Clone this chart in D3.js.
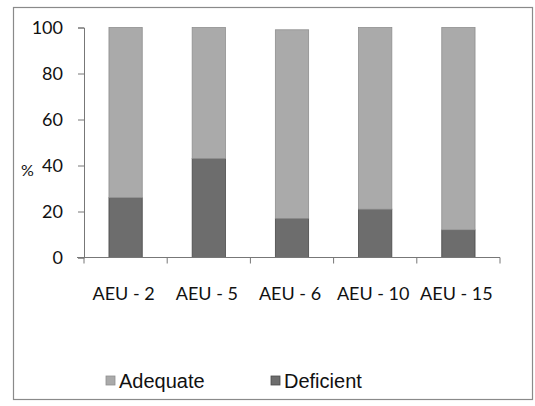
<!DOCTYPE html>
<html>
<head>
<meta charset="utf-8">
<script src="https://cdn.jsdelivr.net/npm/d3@7"></script>
<style>
  html, body { margin: 0; padding: 0; background: #fff; }
  svg { display: block; }
</style>
</head>
<body>
<svg id="chart" width="535" height="406"></svg>
<script>
// Share of each AEU rated adequate / deficient (%)
const categories = ["AEU - 2", "AEU - 5", "AEU - 6", "AEU - 10", "AEU - 15"];
const deficient = [26, 43, 17, 21, 12];
const adequate  = [74, 57, 82, 79, 88];
const seriesNames = ["Adequate", "Deficient"];
const yTicks = [0, 20, 40, 60, 80, 100];

const colors = { Adequate: "#aaaaaa", Deficient: "#6d6d6d" };
const strokes = { Adequate: "#8f8f8f", Deficient: "#4a4a4a" };

const svg = d3.select("#chart");

// outer frame
svg.append("rect")
  .attr("x", 13.5).attr("y", 7.5)
  .attr("width", 519).attr("height", 392)
  .attr("fill", "#fff")
  .attr("stroke", "#8a8a8a")
  .attr("stroke-width", 1.2);

const x = d3.scaleBand().domain(categories).range([84, 500]).paddingInner(0.6).paddingOuter(0.3);
const y = d3.scaleLinear().domain([0, 100]).range([257.5, 27.5]);

// stacked data: deficient at the bottom, adequate above
const rows = categories.map((c, i) => ({ cat: c, Deficient: deficient[i], Adequate: adequate[i] }));
const stack = d3.stack().keys(["Deficient", "Adequate"])(rows);

const g = svg.append("g");
g.selectAll("g.layer")
  .data(stack)
  .join("g")
  .attr("class", "layer")
  .attr("fill", d => colors[d.key])
  .attr("stroke", d => strokes[d.key])
  .attr("stroke-width", 0.8)
  .selectAll("rect")
  .data(d => d)
  .join("rect")
  .attr("x", d => x(d.data.cat))
  .attr("width", x.bandwidth())
  .attr("y", d => y(d[1]))
  .attr("height", d => y(d[0]) - y(d[1]));

// y axis
const yAxis = svg.append("g")
  .attr("transform", "translate(84,0)")
  .call(d3.axisLeft(y).tickValues(yTicks).tickSize(6).tickPadding(15));
yAxis.select(".domain").attr("stroke", "#777");
yAxis.selectAll(".tick line").attr("stroke", "#777");
yAxis.selectAll(".tick text")
  .attr("fill", "#111")
  .style("font-family", "Lato, 'Open Sans', sans-serif")
  .style("font-size", "18px");

svg.append("text")
  .attr("x", 21).attr("y", 176)
  .attr("fill", "#111")
  .style("font-family", "Lato, 'Open Sans', sans-serif")
  .style("font-size", "16px")
  .text("%");

// x axis: ticks on the band boundaries
const xb = d3.scalePoint().domain(d3.range(categories.length + 1)).range([84, 500]);
const xAxisG = svg.append("g").attr("transform", `translate(0,${y(0)})`);
xAxisG.append("line")
  .attr("x1", 77).attr("x2", 500)
  .attr("stroke", "#777");
xAxisG.selectAll("line.tick")
  .data(xb.domain())
  .join("line")
  .attr("class", "tick")
  .attr("x1", d => xb(d)).attr("x2", d => xb(d))
  .attr("y1", 0).attr("y2", 6)
  .attr("stroke", "#777");
xAxisG.selectAll("text")
  .data(categories)
  .join("text")
  .attr("x", d => x(d) + x.bandwidth() / 2 - 2)
  .attr("y", 42.5)
  .attr("text-anchor", "middle")
  .attr("fill", "#111")
  .style("font-family", "Lato, 'Open Sans', sans-serif")
  .style("font-size", "18px")
  .text(d => d);

// legend
const legendX = [106, 271];
const legend = svg.append("g").selectAll("g")
  .data(seriesNames)
  .join("g")
  .attr("transform", (d, i) => `translate(${legendX[i]},376)`);
legend.append("rect")
  .attr("width", 9).attr("height", 9)
  .attr("fill", d => colors[d])
  .attr("stroke", d => strokes[d])
  .attr("stroke-width", 0.8);
legend.append("text")
  .attr("x", 13).attr("y", 12)
  .attr("fill", "#111")
  .style("font-family", "'Liberation Sans', Arial, sans-serif")
  .style("font-size", "20px")
  .text(d => d);
</script>
</body>
</html>
